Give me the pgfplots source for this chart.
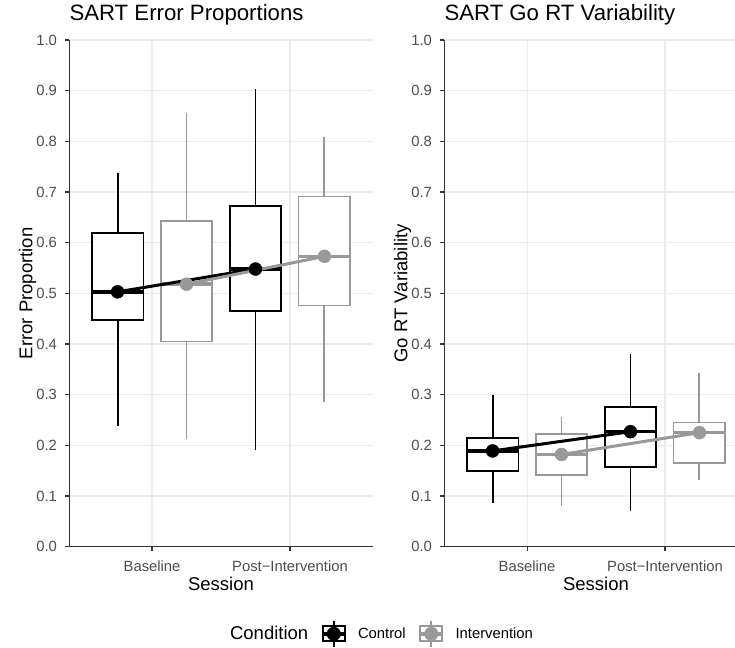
\documentclass[border=0pt]{standalone}
\usepackage{pgfplots}
\pgfplotsset{compat=1.18}
\usepgfplotslibrary{statistics}
\usepackage{fontspec}
\setmainfont{Liberation Sans}

\definecolor{ctrl}{HTML}{000000}
\definecolor{intv}{HTML}{999999}
\definecolor{gridc}{HTML}{EBEBEB}
\definecolor{tickc}{HTML}{4D4D4D}
\definecolor{axisc}{HTML}{333333}

% one box: colour, position, lower whisker, Q1, median, Q3, upper whisker
\newcommand{\sessbox}[7]{%
  \addplot[forget plot, draw=#1, fill=white, line width=1.8pt,
    boxplot prepared={draw position=#2, lower whisker=#3, lower quartile=#4,
      median=#5, upper quartile=#6, upper whisker=#7,
      box extend=0.375, whisker extend=0,
      every whisker/.style={line width=1.9pt},
      every box/.style={line width=1.8pt},
      every median/.style={line width=3.5pt}}] coordinates {};}

\pgfplotsset{
  panel/.style={
    width=303.4pt, height=506.7pt, scale only axis,
    xmin=0.4, xmax=2.6, ymin=0, ymax=1,
    axis x line*=bottom, axis y line*=left,
    axis line style={-, color=axisc, line width=1.1pt},
    xtick={1,2}, xticklabels={Baseline, Post−Intervention},
    ytick={0,0.1,0.2,0.3,0.4,0.5,0.6,0.7,0.8,0.9,1.0},
    /pgf/number format/fixed, /pgf/number format/fixed zerofill,
    /pgf/number format/precision=1,
    /pgf/number format/assume math mode=true,
    tick align=outside, major tick length=4.6pt,
    tick style={color=axisc, line width=1.1pt},
    grid=major, grid style={color=gridc, line width=1.1pt},
    ticklabel style={font=\fontsize{14.8}{16}\selectfont, text=tickc, inner sep=0pt},
    xticklabel style={anchor=base, yshift=-20pt},
    yticklabel style={anchor=east, xshift=-7.6pt},
    title style={at={(axis description cs:0,1.0262)}, anchor=base west, inner sep=0pt,
      font=\fontsize{22.2}{24}\selectfont},
    xlabel style={at={(axis description cs:0.5,-0.0855)}, anchor=base, inner sep=0pt,
      font=\fontsize{18.5}{20}\selectfont},
    ylabel style={at={(axis description cs:-0.122,0.5)}, anchor=base, inner sep=0pt,
      font=\fontsize{18.5}{20}\selectfont},
    boxplot/draw direction=y,
  },
  keyimg/.style={legend image code/.code={
    \draw[draw=#1, line width=1.8pt] (11pt,-12.8pt) -- (11pt,12.8pt);
    \draw[draw=#1, fill=white, line width=1.8pt] (0pt,-7.5pt) rectangle (22pt,7.5pt);
    \draw[draw=#1, line width=3.5pt] (0pt,0pt) -- (22pt,0pt);
    \fill[#1] (11pt,0pt) circle (6.8pt);
  }},
}

\begin{document}
\begin{tikzpicture}
\path[use as bounding box] (0pt,0pt) rectangle (735pt,647pt);

% ---------------- Error proportions ----------------
\begin{axis}[panel, at={(69.3pt,100.3pt)}, anchor=south west,
  title={SART Error Proportions}, xlabel={Session}, ylabel={Error Proportion},
  legend style={at={(axis description cs:0.4914,-0.172)}, anchor=west,
    draw=none, fill=none, inner sep=0pt, nodes={inner sep=0pt},
    font=\fontsize{14.8}{16}\selectfont,
    /tikz/every odd column/.append style={column sep=11.5pt},
    /tikz/every even column/.append style={column sep=12.8pt}},
  legend columns=3]
  \sessbox{ctrl}{0.75}{0.238}{0.447}{0.503}{0.619}{0.737}
  \sessbox{intv}{1.25}{0.213}{0.405}{0.518}{0.643}{0.856}
  \sessbox{ctrl}{1.75}{0.190}{0.465}{0.548}{0.673}{0.904}
  \sessbox{intv}{2.25}{0.286}{0.476}{0.573}{0.691}{0.809}
  \addplot[forget plot, ctrl, line width=3pt] coordinates {(0.75,0.503) (1.75,0.548)};
  \addplot[forget plot, intv, line width=3pt] coordinates {(1.25,0.518) (2.25,0.573)};
  \addplot[forget plot, only marks, mark=*, mark size=6.5pt, ctrl] coordinates {(0.75,0.503) (1.75,0.548)};
  \addplot[forget plot, only marks, mark=*, mark size=6.5pt, intv] coordinates {(1.25,0.518) (2.25,0.573)};
  \addlegendimage{empty legend}
  \addlegendentry{\fontsize{18.5}{20}\selectfont Condition}
  \addlegendimage{keyimg=ctrl}
  \addlegendentry{Control}
  \addlegendimage{keyimg=intv}
  \addlegendentry{Intervention}
\end{axis}

% ---------------- Go RT variability ----------------
\begin{axis}[panel, at={(444.3pt,100.3pt)}, anchor=south west,
  title={SART Go RT Variability}, xlabel={Session}, ylabel={Go RT Variability}]
  \sessbox{ctrl}{0.75}{0.087}{0.149}{0.189}{0.214}{0.299}
  \sessbox{intv}{1.25}{0.081}{0.142}{0.182}{0.222}{0.256}
  \sessbox{ctrl}{1.75}{0.070}{0.157}{0.227}{0.276}{0.381}
  \sessbox{intv}{2.25}{0.132}{0.165}{0.225}{0.245}{0.342}
  \addplot[forget plot, ctrl, line width=3pt] coordinates {(0.75,0.189) (1.75,0.227)};
  \addplot[forget plot, intv, line width=3pt] coordinates {(1.25,0.182) (2.25,0.225)};
  \addplot[forget plot, only marks, mark=*, mark size=6.5pt, ctrl] coordinates {(0.75,0.189) (1.75,0.227)};
  \addplot[forget plot, only marks, mark=*, mark size=6.5pt, intv] coordinates {(1.25,0.182) (2.25,0.225)};
\end{axis}
\end{tikzpicture}
\end{document}
